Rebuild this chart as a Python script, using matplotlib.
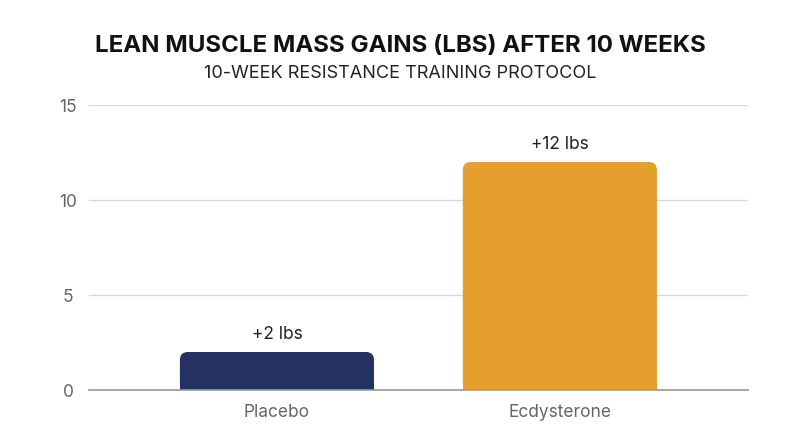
import matplotlib
matplotlib.use("Agg")
import matplotlib.pyplot as plt
from matplotlib.patches import FancyBboxPatch, Rectangle

categories = ["Placebo", "Ecdysterone"]
values = [2, 12]
labels = ["+2 lbs", "+12 lbs"]
colors = ["#243163", "#E49F2C"]
yticks = [0, 5, 10, 15]

plt.rcParams['font.family'] = ['Inter', 'DejaVu Sans']

fig = plt.figure(figsize=(8, 4.47), dpi=100)
ax = fig.add_axes([0.111, 0.1275, 0.824, 0.6375])

bw = 0.686
rx = 0.028
aspect = 15.0
for i, (v, c) in enumerate(zip(values, colors)):
    x0 = i - bw / 2
    p = FancyBboxPatch((x0 + rx, 0 + rx * aspect), bw - 2 * rx, v - 2 * rx * aspect,
                       boxstyle=f"round,pad={rx}", mutation_aspect=aspect,
                       facecolor=c, edgecolor="none", zorder=3)
    ax.add_patch(p)
    ax.add_patch(Rectangle((x0, 0), bw, rx * aspect * 1.2, facecolor=c,
                           edgecolor="none", zorder=3))
    ax.text(i, v + 0.5, labels[i], ha="center", va="bottom", fontsize=12.5,
            color="#222222", zorder=4)

ax.set_xlim(-0.665, 1.665)
ax.set_ylim(0, 15)
ax.set_yticks(yticks)
ax.set_yticklabels([str(t) for t in yticks])
ax.set_xticks(range(len(categories)))
ax.set_xticklabels(categories)
ax.tick_params(axis="both", length=0, labelsize=12.5, colors="#666666")
ax.tick_params(axis="x", pad=10)
for lab in ax.get_yticklabels():
    lab.set_horizontalalignment("center")
ax.yaxis.set_tick_params(pad=15)
ax.grid(axis="y", color="#d9d9d9", linewidth=1, zorder=0)
for s in ["top", "right", "left"]:
    ax.spines[s].set_visible(False)
ax.spines["bottom"].set_color("#999999")
ax.spines["bottom"].set_linewidth(1.2)
ax.spines["bottom"].set_zorder(5)

fig.text(0.5, 0.897, "LEAN MUSCLE MASS GAINS (LBS) AFTER 10 WEEKS", ha="center",
         va="center", fontsize=17.3, fontweight="bold", color="#111111")
fig.text(0.5, 0.836, "10-WEEK RESISTANCE TRAINING PROTOCOL", ha="center",
         va="center", fontsize=13, color="#222222")

fig.savefig("out.png", dpi=100, facecolor="white")
